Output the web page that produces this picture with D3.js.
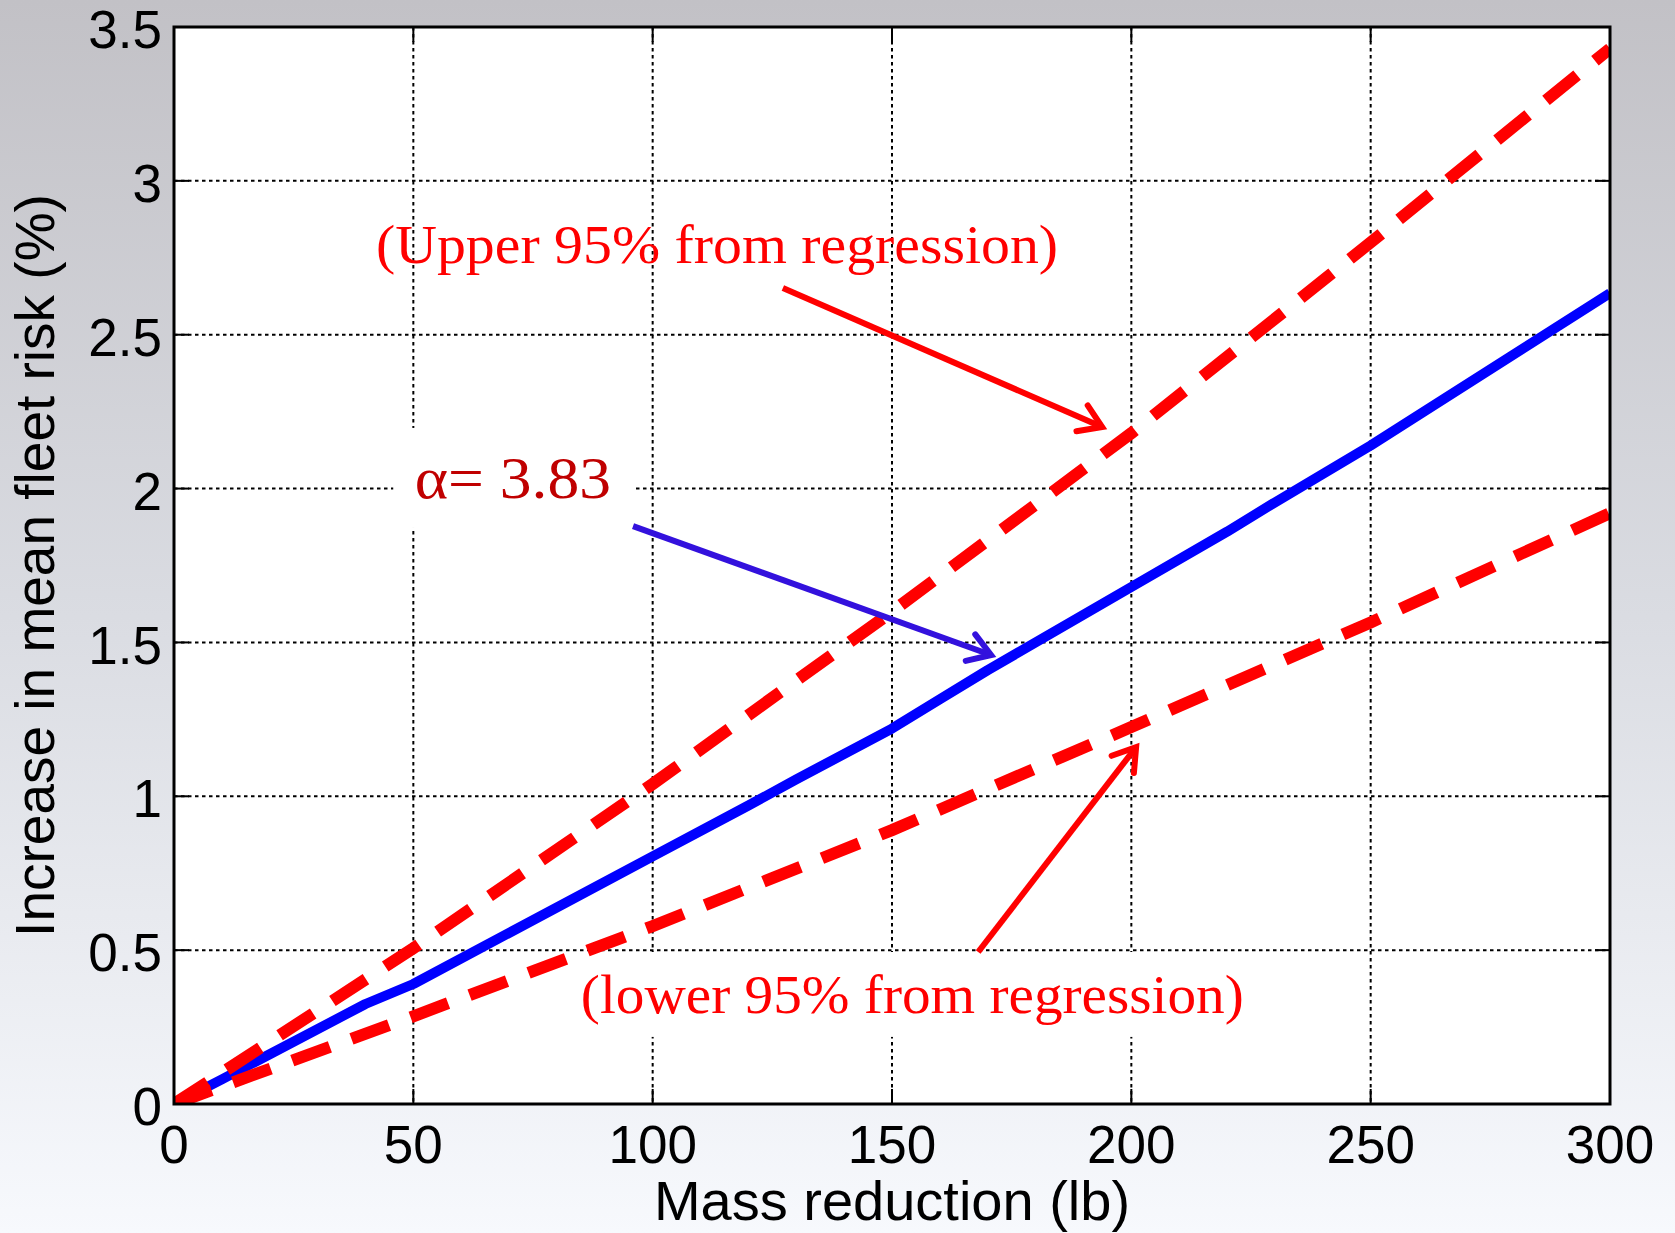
<!DOCTYPE html>
<html>
<head>
<meta charset="utf-8">
<script src="https://cdn.jsdelivr.net/npm/d3@7"></script>
<style>
  body { margin: 0; }
  svg { display: block; }
</style>
</head>
<body>
<svg width="1675" height="1233"></svg>
<script>
"use strict";

// values
const massX = [0, 10, 40, 50, 100, 120, 130, 150, 160, 170, 200, 220, 230, 250, 300];
const meanRisk = [0, 0.08, 0.325, 0.39, 0.805, 0.97, 1.055, 1.22, 1.315, 1.41, 1.68, 1.86, 1.955, 2.14, 2.635];

const boundX = [0, 50, 100, 150, 200, 250, 300];
const upperRisk = [0, 0.506, 1.04, 1.60, 2.18, 2.80, 3.43];
const lowerRisk = [0, 0.285, 0.578, 0.89, 1.225, 1.565, 1.92];

const xTicks = [0, 50, 100, 150, 200, 250, 300];
const yTicks = [0, 0.5, 1, 1.5, 2, 2.5, 3, 3.5];

const svg = d3.select("svg");
const W = 1675, H = 1233;
const pLeft = 174, pRight = 1610, pTop = 27, pBottom = 1104;

const x = d3.scaleLinear().domain([0, 300]).range([pLeft, pRight]);
const y = d3.scaleLinear().domain([0, 3.5]).range([pBottom, pTop]);

// background gradient
const defs = svg.append("defs");
const grad = defs.append("linearGradient").attr("id", "bg")
  .attr("x1", 0).attr("y1", 0).attr("x2", 0).attr("y2", 1);
grad.append("stop").attr("offset", "0%").attr("stop-color", "#c2c1c6");
grad.append("stop").attr("offset", "50%").attr("stop-color", "#dadce2");
grad.append("stop").attr("offset", "100%").attr("stop-color", "#f7f9fd");
svg.append("rect").attr("width", W).attr("height", H).attr("fill", "url(#bg)");

defs.append("clipPath").attr("id", "plotclip")
  .append("rect").attr("x", pLeft).attr("y", pTop)
  .attr("width", pRight - pLeft).attr("height", pBottom - pTop);

svg.append("rect").attr("x", pLeft).attr("y", pTop)
  .attr("width", pRight - pLeft).attr("height", pBottom - pTop)
  .attr("fill", "white");

// grid
const grid = svg.append("g").attr("stroke", "black")
  .attr("stroke-width", 2).attr("stroke-dasharray", "3.5,3.5");
grid.selectAll(".gx").data(xTicks.slice(1, -1)).enter().append("line")
  .attr("x1", d => x(d)).attr("x2", d => x(d))
  .attr("y1", pTop).attr("y2", pBottom);
grid.selectAll(".gy").data(yTicks.slice(1, -1)).enter().append("line")
  .attr("y1", d => y(d)).attr("y2", d => y(d))
  .attr("x1", pLeft).attr("x2", pRight);

// white boxes behind two labels
const boxes = [
  { x0: 45.8, x1: 96.3, y0: 2.197, y1: 1.872 },
  { x0: 83.8, x1: 224.8, y0: 0.494, y1: 0.218 }
];
svg.selectAll(".box").data(boxes).enter().append("rect")
  .attr("x", d => x(d.x0)).attr("y", d => y(d.y0))
  .attr("width", d => x(d.x1) - x(d.x0))
  .attr("height", d => y(d.y1) - y(d.y0))
  .attr("fill", "white");

// ticks (inside, all four sides)
const tk = 15;
const ticks = svg.append("g").attr("stroke", "black").attr("stroke-width", 2);
xTicks.forEach(v => {
  ticks.append("line").attr("x1", x(v)).attr("x2", x(v)).attr("y1", pBottom).attr("y2", pBottom - tk);
  ticks.append("line").attr("x1", x(v)).attr("x2", x(v)).attr("y1", pTop).attr("y2", pTop + tk);
});
yTicks.forEach(v => {
  ticks.append("line").attr("y1", y(v)).attr("y2", y(v)).attr("x1", pLeft).attr("x2", pLeft + tk);
  ticks.append("line").attr("y1", y(v)).attr("y2", y(v)).attr("x1", pRight).attr("x2", pRight - tk);
});

// data lines
const line = d3.line().x(d => x(d[0])).y(d => y(d[1]));
const plot = svg.append("g").attr("clip-path", "url(#plotclip)");

plot.append("path")
  .attr("d", line(massX.map((m, i) => [m, meanRisk[i]])))
  .attr("fill", "none").attr("stroke", "#0000ff").attr("stroke-width", 10)
  .attr("stroke-linejoin", "round");

[upperRisk, lowerRisk].forEach(s => {
  plot.append("path")
    .attr("d", line(boundX.map((m, i) => [m, s[i]])))
    .attr("fill", "none").attr("stroke", "#ff0000").attr("stroke-width", 12)
    .attr("stroke-dasharray", "40,23");
});

// frame
svg.append("rect").attr("x", pLeft).attr("y", pTop)
  .attr("width", pRight - pLeft).attr("height", pBottom - pTop)
  .attr("fill", "none").attr("stroke", "black").attr("stroke-width", 3);

// tick labels
const sans = "'Liberation Sans', Arial, Helvetica, sans-serif";
svg.append("g").selectAll("text").data(xTicks).enter().append("text")
  .attr("x", d => x(d)).attr("y", pBottom + 59)
  .attr("text-anchor", "middle")
  .attr("font-family", sans).attr("font-size", 53)
  .text(d => d);
svg.append("g").selectAll("text").data(yTicks).enter().append("text")
  .attr("x", pLeft - 12).attr("y", d => y(d)).attr("dy", "0.4em")
  .attr("text-anchor", "end")
  .attr("font-family", sans).attr("font-size", 53)
  .text(d => d);

// axis titles
svg.append("text").attr("x", (pLeft + pRight) / 2).attr("y", 1220)
  .attr("text-anchor", "middle").attr("font-family", sans).attr("font-size", 56)
  .text("Mass reduction (lb)");
svg.append("text")
  .attr("transform", `translate(54, ${(pTop + pBottom) / 2}) rotate(-90)`)
  .attr("text-anchor", "middle").attr("font-family", sans).attr("font-size", 55)
  .text("Increase in mean fleet risk (%)");

// annotations
const serif = "'Liberation Serif', 'Times New Roman', serif";
const notes = [
  { text: "(Upper 95% from regression)", x0: 42.2, x1: 184.7, y: 2.733, size: 55, color: "#ff0000" },
  { text: "(lower 95% from regression)", x0: 85.0, x1: 223.5, y: 0.296, size: 55, color: "#ff0000" },
  { text: "α= 3.83", x0: 50.3, x1: 91.3, y: 1.969, size: 60, color: "#c00000" }
];
svg.selectAll(".note").data(notes).enter().append("text")
  .attr("x", d => x(d.x0)).attr("y", d => y(d.y))
  .attr("textLength", d => x(d.x1) - x(d.x0))
  .attr("lengthAdjust", "spacingAndGlyphs")
  .attr("font-family", serif).attr("font-size", d => d.size)
  .attr("fill", d => d.color)
  .text(d => d.text);

// arrows
const arrows = [
  { from: [127.2, 2.652], to: [193.9, 2.200], color: "#ff0000" },
  { from: [95.9, 1.878], to: [170.7, 1.459], color: "#3311dd" },
  { from: [168.0, 0.494], to: [201.0, 1.160], color: "#ff0000" }
];
arrows.forEach(a => {
  const x1 = x(a.from[0]), y1 = y(a.from[1]);
  const x2 = x(a.to[0]), y2 = y(a.to[1]);
  const ang = Math.atan2(y2 - y1, x2 - x1);
  const len = 26, spread = Math.PI / 5.5;
  const g = svg.append("g").attr("stroke", a.color).attr("stroke-width", 6).attr("fill", "none");
  g.append("line").attr("x1", x1).attr("y1", y1).attr("x2", x2).attr("y2", y2);
  const head = [ang + Math.PI - spread, ang + Math.PI + spread].map(t =>
    [x2 + len * Math.cos(t), y2 + len * Math.sin(t)]);
  g.append("path")
    .attr("d", d3.line()([head[0], [x2, y2], head[1]]))
    .attr("stroke-linecap", "round").attr("stroke-linejoin", "miter");
});
</script>
</body>
</html>
